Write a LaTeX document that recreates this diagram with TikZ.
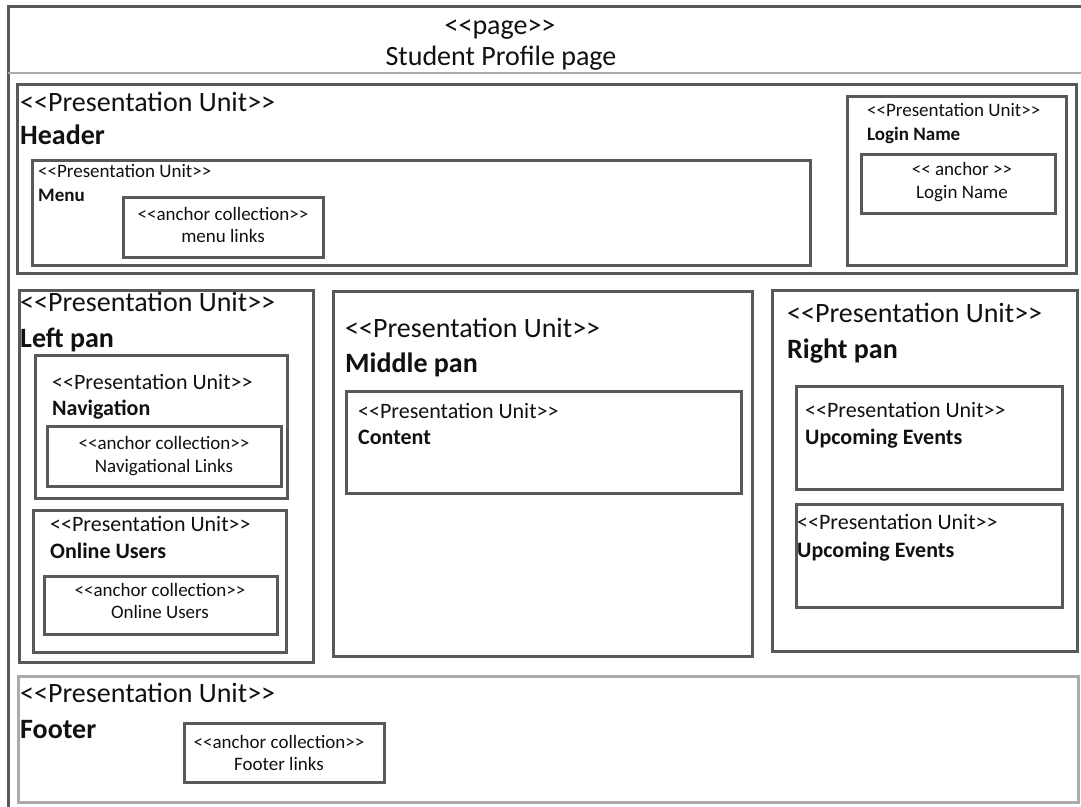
\documentclass[tikz,border=0pt]{standalone}
\usepackage{fontspec}
\defaultfontfeatures{}
\setmainfont{Carlito}
\definecolor{boxgray}{HTML}{595959}
\definecolor{lightgray}{HTML}{ABABAB}
\definecolor{ink}{HTML}{111111}
\newcommand{\fs}[1]{\fontsize{#1}{#1}\selectfont}
% stereotype brackets, kept as two separate glyphs each
\newcommand{\stl}{<\kern0pt<}
\newcommand{\str}{>\kern0pt>}
\tikzset{
  box/.style={draw=boxgray, line width=3pt},
  softbox/.style={draw=lightgray, line width=3pt},
  lbl/.style={inner sep=0pt, anchor=base west, text=ink},
  clbl/.style={inner sep=0pt, anchor=base, text=ink},
  big/.style={font=\fs{28}},
  bigb/.style={font=\fs{28}\bfseries},
  mid/.style={font=\fs{22}},
  midb/.style={font=\fs{22}\bfseries},
  sml/.style={font=\fs{19}},
  smlb/.style={font=\fs{19}\bfseries},
}
\begin{document}
\begin{tikzpicture}[x=1pt,y=-1pt]
\useasboundingbox (0,0) rectangle (1081,806);
\clip (0,0) rectangle (1081,806);
\fill[white] (0,0) rectangle (1081,806);

% page frame and title band
\draw[box] (8,6) rectangle (1095,830);
\draw[draw=lightgray, line width=2pt] (8,73) -- (1095,73);
\node[clbl, big] (pgst) at (500,34) {\stl page\str};
\node[clbl, big] (pgname) at (501,65) {Student Profile page};

% header
\draw[box] (17,84) rectangle (1076,273);
\node[lbl, big] (hdst) at (20,111) {\stl Presentation Unit\str};
\node[lbl, bigb] (hdname) at (20,144) {Header};

\draw[box] (32,160) rectangle (810,265);
\node[lbl, sml] (mnst) at (38,177) {\stl Presentation Unit\str};
\node[lbl, smlb] (mnname) at (38,201) {Menu};
\draw[box] (123,197) rectangle (323,257);
\node[clbl, sml] (mlst) at (223,220) {\stl anchor collection\str};
\node[clbl, sml] (mlname) at (223,242) {menu links};

\draw[box] (847,96) rectangle (1066,265);
\node[lbl, sml] (lnst) at (867,116) {\stl Presentation Unit\str};
\node[lbl, smlb] (lnname) at (867,140) {Login Name};
\draw[box] (861,154) rectangle (1055,213);
\node[clbl, sml] (last) at (962,175) {\stl{} anchor \str};
\node[clbl, sml] (laname) at (962,198) {Login Name};

% left pan
\draw[box] (19,290) rectangle (313,662);
\node[lbl, big] (lpst) at (20,311) {\stl Presentation Unit\str};
\node[lbl, bigb] (lpname) at (20,347) {Left pan};

\draw[box] (35,355) rectangle (287,498);
\node[lbl, mid] (nvst) at (52,389) {\stl Presentation Unit\str};
\node[lbl, midb] (nvname) at (52,415) {Navigation};
\draw[box] (47,426) rectangle (281,486);
\node[clbl, sml] (nlst) at (164,449) {\stl anchor collection\str};
\node[clbl, sml] (nlname) at (164,472) {Navigational Links};

\draw[box] (33,510) rectangle (286,652);
\node[lbl, mid] (oust) at (50,531) {\stl Presentation Unit\str};
\node[lbl, midb] (ouname) at (50,558) {Online Users};
\draw[box] (44,576) rectangle (277,634);
\node[clbl, sml] (olst) at (160,596) {\stl anchor collection\str};
\node[clbl, sml] (olname) at (160,618) {Online Users};

% middle pan
\draw[box] (333,291) rectangle (752,656);
\node[lbl, big] (mpst) at (345,337) {\stl Presentation Unit\str};
\node[lbl, bigb] (mpname) at (345,372) {Middle pan};
\draw[box] (346,391) rectangle (741,493);
\node[lbl, mid] (ctst) at (358,418) {\stl Presentation Unit\str};
\node[lbl, midb] (ctname) at (358,444) {Content};

% right pan
\draw[box] (772,290) rectangle (1077,651);
\node[lbl, big] (rpst) at (787,322) {\stl Presentation Unit\str};
\node[lbl, bigb] (rpname) at (787,358) {Right pan};
\draw[box] (796,386) rectangle (1062,489);
\node[lbl, mid] (e1st) at (805,417) {\stl Presentation Unit\str};
\node[lbl, midb] (e1name) at (805,444) {Upcoming Events};
\draw[box] (796,504) rectangle (1062,607);
\node[lbl, mid] (e2st) at (797,529) {\stl Presentation Unit\str};
\node[lbl, midb] (e2name) at (797,557) {Upcoming Events};

% footer
\draw[softbox] (18,676) rectangle (1078,802);
\node[lbl, big] (ftst) at (20,702) {\stl Presentation Unit\str};
\node[lbl, bigb] (ftname) at (20,738) {Footer};
\draw[box] (184,723) rectangle (384,782);
\node[clbl, sml] (flst) at (279,748) {\stl anchor collection\str};
\node[clbl, sml] (flname) at (279,770) {Footer links};
\end{tikzpicture}
\end{document}
